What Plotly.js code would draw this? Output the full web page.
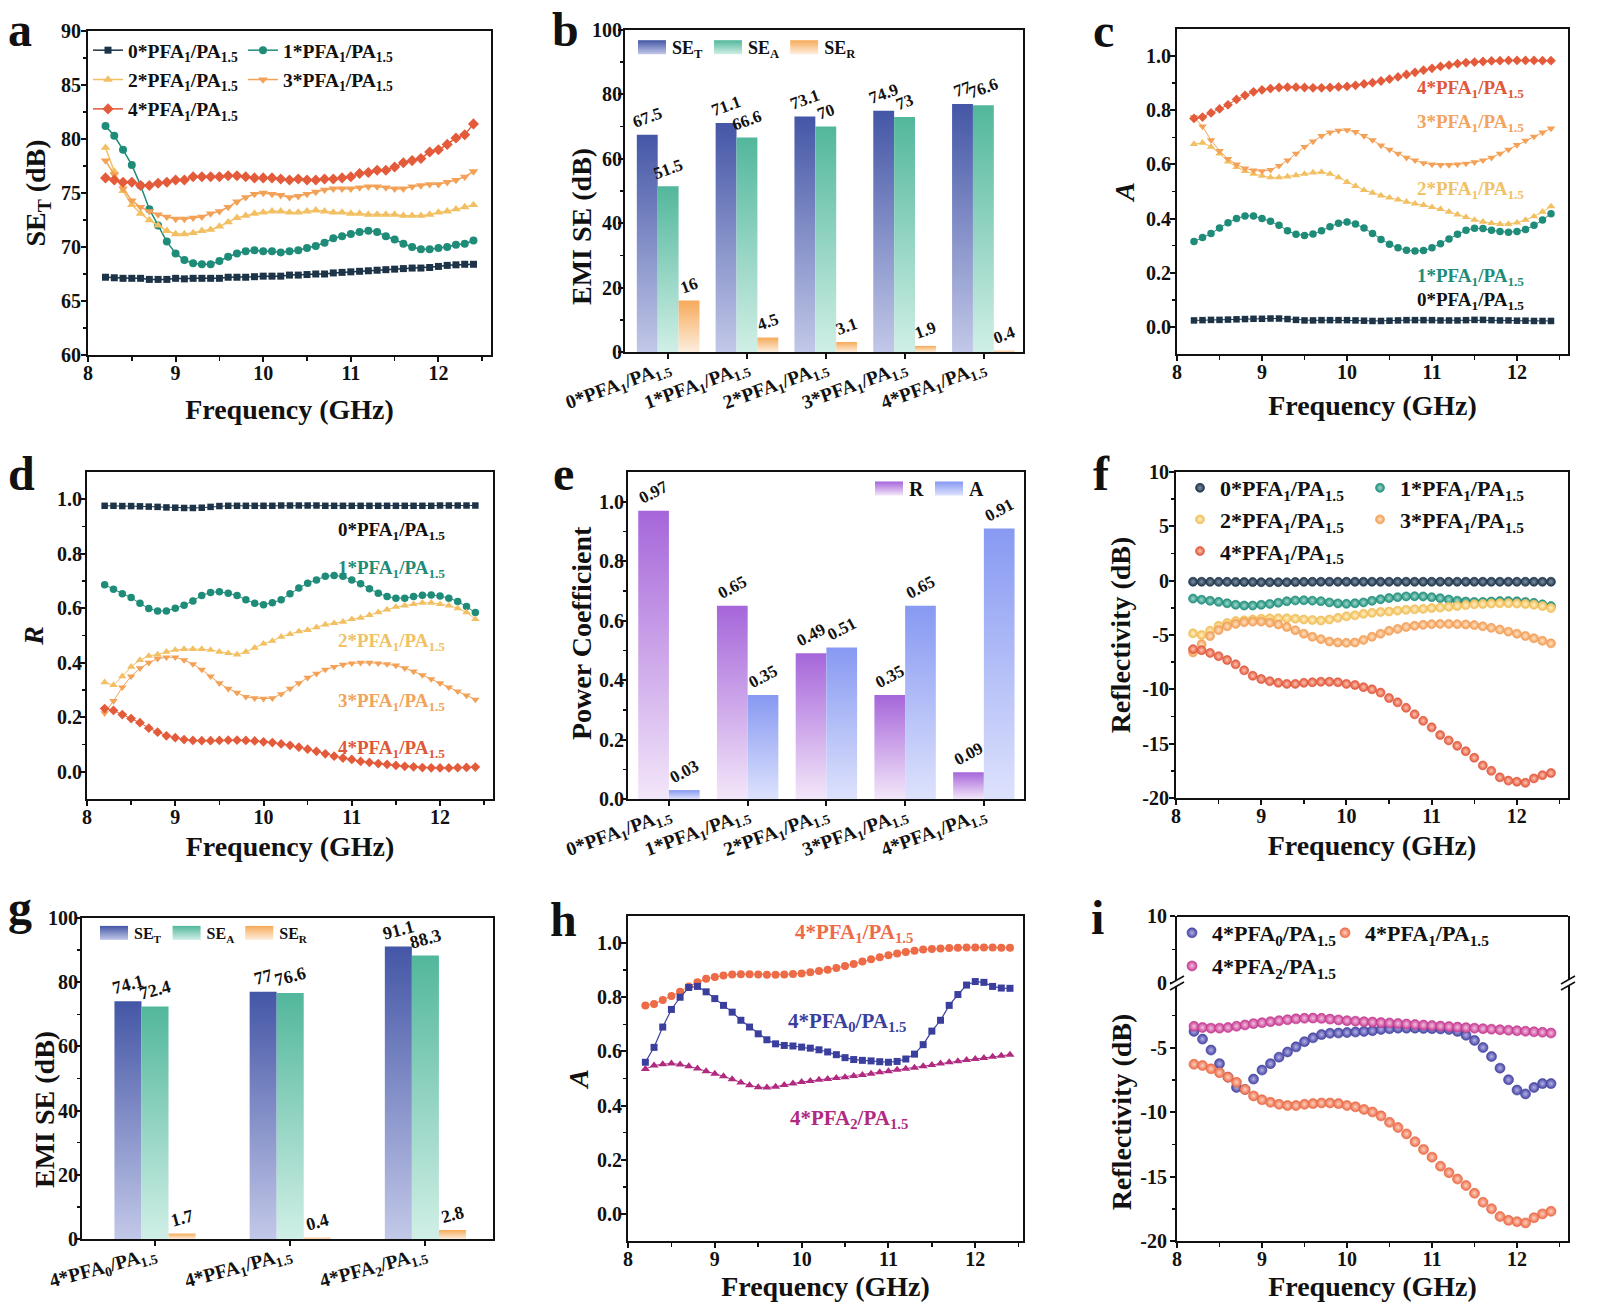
<!DOCTYPE html>
<html><head><meta charset="utf-8">
<script src="https://cdn.plot.ly/plotly-3.0.1.min.js"></script>
<style>html,body{margin:0;padding:0;background:#fff}#chart{width:1600px;height:1308px}</style>
</head><body><div id="chart"></div>
<script>
// ---------------- DATA ----------------
const freq=[8.2,8.3,8.4,8.5,8.6,8.7,8.8,8.9,9.0,9.1, 9.2,9.3,9.4,9.5,9.6,9.7,9.8,9.9,10.0,10.1, 10.2,10.3,10.4,10.5,10.6,10.7,10.8,10.9,11.0,11.1, 11.2,11.3,11.4,11.5,11.6,11.7,11.8,11.9,12.0,12.1, 12.2,12.3,12.4];

// (a) SE_T (dB)
const seT0=[67.2,67.15,67.1,67.1,67.1,67.0,67.0,67.0,67.1,67.05, 67.1,67.1,67.1,67.1,67.2,67.2,67.2,67.25,67.3,67.3, 67.3,67.4,67.4,67.45,67.5,67.5,67.6,67.65,67.7,67.75, 67.8,67.85,67.9,67.95,68.0,68.05,68.05,68.1,68.2,68.3, 68.35,68.4,68.4];
const seT1=[81.2,80.3,79.0,77.6,75.7,73.5,72.0,70.5,69.4,68.8, 68.5,68.4,68.4,68.7,69.1,69.4,69.6,69.7,69.6,69.6, 69.5,69.6,69.7,69.9,70.1,70.4,70.8,71.0,71.2,71.4, 71.5,71.4,71.0,70.7,70.3,70.0,69.8,69.8,69.9,70.0, 70.2,70.3,70.6];
const seT2=[79.2,77.0,75.2,73.9,73.1,72.5,72.0,71.5,71.2,71.2, 71.3,71.5,71.6,71.9,72.3,72.7,72.9,73.1,73.2,73.3, 73.3,73.2,73.2,73.3,73.4,73.3,73.2,73.2,73.1,73.1, 73.0,73.0,73.0,73.0,72.9,72.9,72.9,73.0,73.2,73.3, 73.5,73.7,73.9];
const seT3=[78.0,76.7,75.4,74.3,73.7,73.3,73.0,72.8,72.6,72.6, 72.7,72.8,73.1,73.3,73.7,74.2,74.6,74.9,75.0,74.9, 74.8,74.6,74.7,74.9,75.1,75.3,75.4,75.4,75.4,75.5, 75.6,75.6,75.5,75.4,75.4,75.6,75.7,75.8,75.8,76.0, 76.2,76.5,77.0];
const seT4=[76.4,76.2,76.0,76.0,75.7,75.7,75.9,76.0,76.2,76.2, 76.5,76.5,76.5,76.5,76.6,76.6,76.5,76.4,76.4,76.4, 76.3,76.2,76.3,76.2,76.2,76.3,76.3,76.4,76.5,76.8, 76.9,77.1,77.1,77.4,77.8,78.0,78.2,78.8,79.0,79.5, 80.1,80.4,81.4];

// (b) EMI SE bars
const catsB=['0*PFA<sub>1</sub>/PA<sub>1.5</sub>','1*PFA<sub>1</sub>/PA<sub>1.5</sub>','2*PFA<sub>1</sub>/PA<sub>1.5</sub>','3*PFA<sub>1</sub>/PA<sub>1.5</sub>','4*PFA<sub>1</sub>/PA<sub>1.5</sub>'];
const barSET=[67.5,71.1,73.1,74.9,77];
const barSEA=[51.5,66.6,70,73,76.6];
const barSER=[16,4.5,3.1,1.9,0.4];

// (c) A
const absA0=[0.024,0.025,0.026,0.026,0.027,0.028,0.029,0.030,0.030,0.031, 0.031,0.029,0.026,0.024,0.024,0.025,0.025,0.025,0.025,0.024, 0.023,0.022,0.022,0.023,0.024,0.025,0.025,0.025,0.025,0.024, 0.024,0.024,0.025,0.026,0.026,0.025,0.024,0.024,0.023,0.023, 0.022,0.022,0.022];
const absA1=[0.315,0.330,0.345,0.365,0.385,0.400,0.410,0.410,0.400,0.390, 0.375,0.355,0.342,0.338,0.343,0.355,0.370,0.383,0.387,0.380, 0.365,0.345,0.323,0.305,0.292,0.283,0.280,0.282,0.292,0.307, 0.325,0.342,0.357,0.364,0.363,0.357,0.352,0.350,0.352,0.360, 0.375,0.395,0.418];
const absA2=[0.675,0.680,0.665,0.640,0.610,0.590,0.575,0.565,0.558,0.552, 0.552,0.555,0.560,0.565,0.570,0.572,0.565,0.552,0.535,0.520, 0.505,0.495,0.485,0.477,0.470,0.462,0.455,0.450,0.442,0.435, 0.425,0.415,0.405,0.395,0.388,0.383,0.380,0.380,0.385,0.395, 0.408,0.425,0.445];
const absA3=[0.775,0.740,0.690,0.650,0.620,0.600,0.585,0.578,0.575,0.580, 0.595,0.615,0.640,0.665,0.685,0.705,0.718,0.725,0.727,0.720, 0.705,0.690,0.670,0.655,0.640,0.625,0.615,0.605,0.600,0.598, 0.598,0.600,0.603,0.608,0.615,0.625,0.640,0.655,0.672,0.688, 0.703,0.718,0.733];
const absA4=[0.770,0.775,0.790,0.805,0.820,0.840,0.855,0.868,0.875,0.880, 0.884,0.885,0.885,0.884,0.883,0.883,0.884,0.886,0.888,0.892, 0.897,0.902,0.908,0.915,0.923,0.932,0.940,0.948,0.955,0.962, 0.967,0.972,0.976,0.978,0.980,0.982,0.983,0.984,0.984,0.984, 0.984,0.983,0.983];

// (d) R
const refR0=[0.976,0.976,0.975,0.975,0.974,0.973,0.972,0.970,0.969,0.968, 0.968,0.969,0.972,0.975,0.976,0.976,0.976,0.976,0.976,0.976, 0.977,0.977,0.977,0.977,0.977,0.976,0.976,0.976,0.976,0.976, 0.976,0.976,0.976,0.976,0.976,0.976,0.976,0.976,0.977,0.977, 0.977,0.977,0.977];
const refR1=[0.686,0.670,0.653,0.639,0.618,0.599,0.590,0.590,0.600,0.611, 0.627,0.647,0.658,0.661,0.655,0.647,0.631,0.618,0.613,0.620, 0.631,0.653,0.674,0.692,0.704,0.717,0.720,0.717,0.704,0.690, 0.672,0.655,0.643,0.637,0.637,0.643,0.648,0.649,0.645,0.637, 0.625,0.606,0.584];
const refR2=[0.328,0.318,0.350,0.385,0.410,0.425,0.430,0.440,0.447,0.450, 0.450,0.450,0.447,0.440,0.435,0.430,0.440,0.455,0.470,0.480, 0.495,0.505,0.515,0.520,0.530,0.540,0.545,0.550,0.560,0.565, 0.575,0.585,0.595,0.605,0.610,0.615,0.620,0.620,0.615,0.610, 0.600,0.585,0.560];
const refR3=[0.215,0.260,0.310,0.350,0.380,0.400,0.415,0.420,0.420,0.410, 0.395,0.375,0.350,0.325,0.305,0.290,0.275,0.270,0.268,0.270, 0.285,0.305,0.325,0.345,0.360,0.375,0.385,0.393,0.398,0.400, 0.400,0.398,0.395,0.390,0.380,0.368,0.355,0.340,0.325,0.310, 0.295,0.280,0.265];
const refR4=[0.232,0.225,0.210,0.195,0.180,0.160,0.145,0.132,0.125,0.118, 0.115,0.114,0.114,0.115,0.116,0.116,0.115,0.113,0.110,0.107, 0.102,0.097,0.090,0.083,0.075,0.066,0.057,0.050,0.045,0.038, 0.034,0.030,0.027,0.023,0.020,0.018,0.0155,0.0145,0.014,0.014, 0.015,0.016,0.017];

// (e) power coefficients
const coefR=[0.97,0.65,0.49,0.35,0.09];
const coefA=[0.03,0.35,0.51,0.65,0.91];

// (f) reflectivity (dB)
const rfl0=[-0.10,-0.10,-0.11,-0.11,-0.11,-0.12,-0.12,-0.13,-0.14,-0.14, -0.14,-0.14,-0.12,-0.11,-0.10,-0.10,-0.10,-0.10,-0.10,-0.10, -0.10,-0.10,-0.10,-0.10,-0.10,-0.10,-0.10,-0.10,-0.10,-0.10, -0.10,-0.10,-0.10,-0.10,-0.10,-0.10,-0.10,-0.10,-0.10,-0.10, -0.10,-0.10,-0.10];
const rfl1=[-1.65,-1.75,-1.85,-1.95,-2.08,-2.22,-2.29,-2.29,-2.22,-2.14, -2.03,-1.89,-1.82,-1.80,-1.84,-1.89,-2.00,-2.09,-2.13,-2.08, -2.00,-1.85,-1.71,-1.60,-1.52,-1.45,-1.43,-1.45,-1.52,-1.61, -1.73,-1.84,-1.92,-1.96,-1.96,-1.92,-1.88,-1.88,-1.90,-1.96, -2.04,-2.18,-2.34];
const rfl2=[-4.85,-5.00,-4.60,-4.15,-3.90,-3.72,-3.65,-3.57,-3.50,-3.47, -3.47,-3.47,-3.50,-3.57,-3.62,-3.67,-3.57,-3.42,-3.28,-3.19, -3.05,-2.96,-2.88,-2.84,-2.76,-2.68,-2.63,-2.60,-2.52,-2.48, -2.40,-2.33,-2.25,-2.18,-2.15,-2.11,-2.08,-2.08,-2.11,-2.15, -2.22,-2.33,-2.52];
const rfl3=[-6.60,-5.85,-5.10,-4.55,-4.20,-3.98,-3.82,-3.77,-3.77,-3.87, -4.03,-4.26,-4.56,-4.88,-5.16,-5.38,-5.60,-5.69,-5.72,-5.69, -5.45,-5.16,-4.88,-4.62,-4.44,-4.26,-4.15,-4.06,-4.00,-3.98, -3.98,-4.00,-4.03,-4.09,-4.20,-4.34,-4.50,-4.69,-4.88,-5.09, -5.30,-5.53,-5.77];
const rfl4=[-6.30,-6.40,-6.65,-6.95,-7.30,-7.70,-8.25,-8.75,-9.05,-9.25, -9.40,-9.50,-9.50,-9.40,-9.35,-9.30,-9.30,-9.35,-9.50,-9.60, -9.80,-10.00,-10.30,-10.80,-11.20,-11.70,-12.30,-12.90,-13.50,-14.20, -14.70,-15.20,-15.70,-16.30,-17.00,-17.50,-18.10,-18.40,-18.50,-18.60, -18.20,-17.90,-17.70];

// (g) EMI SE bars
const catsG=['4*PFA<sub>0</sub>/PA<sub>1.5</sub>','4*PFA<sub>1</sub>/PA<sub>1.5</sub>','4*PFA<sub>2</sub>/PA<sub>1.5</sub>'];
const gSET=[74.1,77,91.1];
const gSEA=[72.4,76.6,88.3];
const gSER=[1.7,0.4,2.8];

// (h) A
const hA0=[0.560,0.615,0.690,0.755,0.800,0.836,0.840,0.820,0.795,0.770, 0.745,0.715,0.690,0.665,0.643,0.628,0.622,0.620,0.616,0.612, 0.606,0.598,0.588,0.577,0.570,0.567,0.565,0.562,0.560,0.563, 0.572,0.590,0.625,0.675,0.715,0.770,0.810,0.845,0.858,0.855, 0.840,0.834,0.833];
const hA1=absA4;
const hA2=[0.535,0.548,0.553,0.555,0.552,0.545,0.537,0.527,0.518,0.508, 0.497,0.485,0.475,0.468,0.467,0.470,0.476,0.482,0.487,0.491, 0.495,0.498,0.502,0.505,0.509,0.513,0.518,0.523,0.527,0.532, 0.536,0.540,0.545,0.550,0.555,0.560,0.564,0.568,0.572,0.576, 0.580,0.584,0.588];

// (i) reflectivity (dB)
const iR0=[-3.75,-4.35,-5.20,-6.25,-7.30,-8.10,-8.25,-7.45,-6.75,-6.25, -5.75,-5.35,-4.95,-4.55,-4.25,-4.00,-3.90,-3.88,-3.84,-3.80, -3.75,-3.70,-3.60,-3.55,-3.50,-3.50,-3.50,-3.52,-3.54,-3.56, -3.60,-3.75,-4.05,-4.45,-5.00,-5.70,-6.60,-7.50,-8.30,-8.60, -8.10,-7.80,-7.80];
const iR1=rfl4;
const iR2=[-3.36,-3.45,-3.50,-3.50,-3.45,-3.35,-3.25,-3.15,-3.08,-3.00, -2.92,-2.85,-2.78,-2.73,-2.72,-2.74,-2.80,-2.86,-2.92,-2.96, -3.00,-3.03,-3.07,-3.10,-3.14,-3.18,-3.22,-3.26,-3.30,-3.34, -3.38,-3.42,-3.46,-3.50,-3.54,-3.58,-3.62,-3.66,-3.70,-3.74, -3.78,-3.82,-3.88];

// ---------------- STYLE ----------------
const W=1600,H=1308;
const px=v=>v/W, py=v=>1-v/H;
const FONT='Liberation Serif, "Times New Roman", serif';
const K='#111111';
const lbl=(n,a)=>n+'*PFA<sub>'+a+'</sub>/PA<sub>1.5</sub>';
const C0='#1d3347',C1='#1f8c79',C2='#f2c062',C3='#f4a158',C4='#e35b3b';
const GRAD={gT:['#4456a6','#c2c8e8'],gA:['#52b79c','#d0efe6'],gR:['#f6aa5a','#fdeede'],gRe:['#a666da','#f3e6f9'],gAe:['#8799f2','#dde2fc']};

const tickFont={family:FONT,size:20,color:K,weight:'bold'};
const titleFont={family:FONT,size:28,color:K,weight:'bold'};
function ax(o){return Object.assign({showline:true,linewidth:2,linecolor:K,mirror:true,ticks:'outside',ticklen:5,tickwidth:2,tickcolor:K,showgrid:false,zeroline:false,automargin:false,fixedrange:true,tickfont:tickFont},o);}
function minor(d){return {dtick:d,ticks:'outside',ticklen:3.5,tickwidth:1.5,tickcolor:K};}
function fx(dom,anchor,range,so){return ax({domain:dom,anchor:anchor,range:range,dtick:1,tick0:8,ticklabelstandoff:-6,minor:minor(0.5),title:{text:'Frequency (GHz)',font:titleFont,standoff:so}});}
function yax(dom,anchor,range,o,title,so,tls){const a=ax(Object.assign({domain:dom,anchor:anchor,range:range,ticklabelstandoff:tls},o));if(title)a.title={text:title,font:titleFont,standoff:so};return a;}
function cx(dom,anchor,range,ang){return ax({domain:dom,anchor:anchor,range:range,type:'category',tickangle:ang,ticklabelstandoff:-10,tickfont:{family:FONT,size:19.5,color:K,weight:'bold'}});}

function ln(x,y,xa,ya,name,color,symbol,size,leg,lw){return {type:'scatter',mode:'lines+markers',x:x,y:y,xaxis:xa,yaxis:ya,name:name,legendgroup:name+xa,line:{color:color,width:lw},marker:{color:color,symbol:symbol,size:size},legend:leg||'legend',showlegend:!!leg,hoverinfo:'skip'};}
function sph(x,y,xa,ya,name,color,hi,size,leg){return {type:'scatter',mode:'markers',x:x,y:y,xaxis:xa,yaxis:ya,name:name,legendgroup:name+xa,marker:{color:color,size:size,gradient:{type:'radial',color:hi},line:{width:0.6,color:color}},legend:leg,showlegend:true,hoverinfo:'skip'};}
function bar(x,y,xa,ya,name,color,grad,w,off,leg,ang,fs){return {type:'bar',x:x,y:y,xaxis:xa,yaxis:ya,name:name,meta:grad,marker:{color:color,line:{width:0}},width:w,offset:off,text:y.map(String),textposition:'outside',textangle:ang,constraintext:'none',cliponaxis:false,textfont:{family:FONT,size:fs,color:K,weight:'bold'},legend:leg,showlegend:true,hoverinfo:'skip'};}

const data=[
 // a
 ln(freq,seT0,'x','y',lbl(0,1),C0,'square',7,'legend',1.5),
 ln(freq,seT1,'x','y',lbl(1,1),C1,'circle',8,'legend2',1.5),
 ln(freq,seT2,'x','y',lbl(2,1),C2,'triangle-up',8.5,'legend',1.5),
 ln(freq,seT3,'x','y',lbl(3,1),C3,'triangle-down',8.5,'legend2',1.5),
 ln(freq,seT4,'x','y',lbl(4,1),C4,'diamond',8.5,'legend',1.5),
 // b
 bar(catsB,barSET,'x2','y2','SE<sub>T</sub>','#4456a6','gT',0.265,-0.4,'legend7',-20,17),
 bar(catsB,barSEA,'x2','y2','SE<sub>A</sub>','#52b79c','gA',0.265,-0.135,'legend7',-20,17),
 bar(catsB,barSER,'x2','y2','SE<sub>R</sub>','#f6aa5a','gR',0.265,0.13,'legend7',-20,17),
 // c
 ln(freq,absA0,'x3','y3',lbl(0,1),C0,'square',6.5,null,1),
 ln(freq,absA1,'x3','y3',lbl(1,1),C1,'circle',7.5,null,1),
 ln(freq,absA2,'x3','y3',lbl(2,1),C2,'triangle-up',7.5,null,1),
 ln(freq,absA3,'x3','y3',lbl(3,1),C3,'triangle-down',7.5,null,1),
 ln(freq,absA4,'x3','y3',lbl(4,1),C4,'diamond',7.5,null,1),
 // d
 ln(freq,refR0,'x4','y4',lbl(0,1),C0,'square',6.5,null,1),
 ln(freq,refR1,'x4','y4',lbl(1,1),C1,'circle',7.5,null,1),
 ln(freq,refR2,'x4','y4',lbl(2,1),C2,'triangle-up',7.5,null,1),
 ln(freq,refR3,'x4','y4',lbl(3,1),C3,'triangle-down',7.5,null,1),
 ln(freq,refR4,'x4','y4',lbl(4,1),C4,'diamond',7.5,null,1),
 // e
 bar(catsB,coefR,'x5','y5','R','#a666da','gRe',0.39,-0.39,'legend8',-28,17),
 bar(catsB,coefA,'x5','y5','A','#8799f2','gAe',0.39,0,'legend8',-28,17),
 // f
 sph(freq,rfl0,'x6','y6',lbl(0,1),'#1d3347','#7f93a8',9,'legend3'),
 sph(freq,rfl1,'x6','y6',lbl(1,1),'#1f8c79','#9fdccf',9,'legend4'),
 sph(freq,rfl2,'x6','y6',lbl(2,1),'#f0bd55','#fff0c8',9,'legend3'),
 sph(freq,rfl3,'x6','y6',lbl(3,1),'#f29c52','#ffe3c6',9,'legend4'),
 sph(freq,rfl4,'x6','y6',lbl(4,1),'#e0553a','#ffc4b0',9,'legend3'),
 // g
 bar(catsG,gSET,'x7','y7','SE<sub>T</sub>','#4456a6','gT',0.2,-0.3,'legend9',-15,18),
 bar(catsG,gSEA,'x7','y7','SE<sub>A</sub>','#52b79c','gA',0.2,-0.1,'legend9',-15,18),
 bar(catsG,gSER,'x7','y7','SE<sub>R</sub>','#f6aa5a','gR',0.2,0.1,'legend9',-15,18),
 // h
 ln(freq,hA1,'x8','y8',lbl(4,1),'#ee6b47','circle',8,null,1),
 ln(freq,hA0,'x8','y8',lbl(4,0),'#3a3f9e','square',7,null,1.2),
 ln(freq,hA2,'x8','y8',lbl(4,2),'#b02a80','triangle-up',8,null,1),
 // i
 sph(freq,iR0,'x9','y9',lbl(4,0),'#45439f','#b3b2ea',10,'legend5'),
 sph(freq,iR1,'x9','y9',lbl(4,1),'#ea6a46','#ffd0bf',10,'legend6'),
 sph(freq,iR2,'x9','y9',lbl(4,2),'#c53a91','#f5bfe0',10,'legend5'),
 {type:'scatter',mode:'markers',x:[],y:[],xaxis:'x9',yaxis:'y10',showlegend:false,hoverinfo:'skip'}
];

function legV(x,y,size,gap){return {x:px(x),y:py(y),xanchor:'left',yanchor:'top',orientation:'v',bgcolor:'rgba(0,0,0,0)',borderwidth:0,font:{family:FONT,size:size,color:K,weight:'bold'},traceorder:'grouped',tracegroupgap:gap,itemclick:false,itemdoubleclick:false};}
function legH(x,y,size){return {x:px(x),y:py(y),xanchor:'left',yanchor:'top',orientation:'h',bgcolor:'rgba(0,0,0,0)',borderwidth:0,font:{family:FONT,size:size,color:K,weight:'bold'},itemclick:false,itemdoubleclick:false};}
function note(text,x,y,xr,yr,color,size,xa){return {text:text,x:x,y:y,xref:xr,yref:yr,xanchor:xa||'right',yanchor:'middle',showarrow:false,font:{family:FONT,size:size,color:color,weight:'bold'}};}
function letter(t,x,y,anc){return {text:t,x:px(x),y:py(y),xref:'paper',yref:'paper',xanchor:'center',yanchor:anc||'middle',showarrow:false,font:{family:FONT,size:48,color:K,weight:'bold'}};}
function ytitle(t,x,y){return {text:t,x:px(x),y:py(y),xref:'paper',yref:'paper',xanchor:'center',yanchor:'middle',textangle:-90,showarrow:false,font:titleFont};}

const dbTicks=[10,5,0,-5,-10,-15,-20];
const minorA={tickvals:[0.1,0.3,0.5,0.7,0.9],ticks:'outside',ticklen:3.5,tickwidth:1.5,tickcolor:K};
const layout={
 width:W,height:H,margin:{l:0,r:0,t:0,b:0},paper_bgcolor:'#ffffff',plot_bgcolor:'rgba(0,0,0,0)',
 font:{family:FONT,color:K,weight:'bold'},barmode:'overlay',showlegend:true,
 // a
 xaxis:fx([px(88),px(491)],'y',[8,12.6],16),
 yaxis:yax([py(355),py(31)],'x',[60,90],{dtick:5,minor:minor(2.5)},'SE<sub>T</sub> (dB)',7,-4),
 // b
 xaxis2:cx([px(625),px(1023)],'y2',[-0.55,4.5],-20),
 yaxis2:yax([py(352),py(30)],'x2',[0,100],{dtick:20,minor:minor(10)},null,0,-8),
 // c
 xaxis3:fx([px(1177),px(1568)],'y3',[8,12.6],13),
 yaxis3:yax([py(354),py(29)],'x3',[-0.1,1.1],{tickvals:[0,0.2,0.4,0.6,0.8,1.0],tickformat:'.1f',minor:minorA},'<i>A</i>',3,-5),
 // d
 xaxis4:fx([px(87),px(493)],'y4',[8,12.6],9),
 yaxis4:yax([py(799),py(472)],'x4',[-0.1,1.1],{tickvals:[0,0.2,0.4,0.6,0.8,1.0],tickformat:'.1f',minor:minorA},'<i>R</i>',5,-6),
 // e
 xaxis5:cx([px(628),px(1024)],'y5',[-0.52,4.51],-20),
 yaxis5:yax([py(799),py(472)],'x5',[0,1.1],{tickvals:[0,0.2,0.4,0.6,0.8,1.0],tickformat:'.1f',minor:minorA},null,0,-7),
 // f
 xaxis6:fx([px(1176),px(1568)],'y6',[8,12.6],9),
 yaxis6:yax([py(798),py(472)],'x6',[-20,10],{tickvals:dbTicks,ticktext:dbTicks.map(String),minor:{tickvals:[7.5,2.5,-2.5,-7.5,-12.5,-17.5],ticks:'outside',ticklen:3.5,tickwidth:1.5,tickcolor:K}},'Reflectivity (dB)',4,-4),
 // g
 xaxis7:cx([px(82),px(493)],'y7',[-0.54,2.5],-15),
 yaxis7:yax([py(1239),py(918)],'x7',[0,100],{dtick:20,minor:minor(10)},null,0,-7),
 // h
 xaxis8:fx([px(628),px(1023)],'y8',[8,12.55],7),
 yaxis8:yax([py(1241),py(916)],'x8',[-0.1,1.1],{tickvals:[0,0.2,0.4,0.6,0.8,1.0],tickformat:'.1f',minor:minorA},'<i>A</i>',0,-5),
 // i
 xaxis9:Object.assign(fx([px(1177),px(1568)],'y9',[8,12.6],7),{mirror:false}),
 yaxis9:yax([py(1241),py(983)],'x9',[-20,0],{tickvals:[0,-5,-10,-15,-20],ticktext:['0','-5','-10','-15','-20'],minor:{tickvals:[-2.5,-7.5,-12.5,-17.5],ticks:'outside',ticklen:3.5,tickwidth:1.5,tickcolor:K}},'Reflectivity (dB)',1,-1),
 yaxis10:ax({domain:[py(983),py(916)],anchor:'x9',range:[0,10],ticklabelstandoff:-1,tickvals:[10],ticktext:['10'],minor:{tickvals:[5],ticks:'outside',ticklen:3.5,tickwidth:1.5,tickcolor:K}}),
 legend:legV(88,31,19.5,1),
 legend2:legV(243,31,19.5,1),
 legend3:legV(1180,467,22,0),
 legend4:legV(1360,467,22,0),
 legend5:legV(1172,912,22,1.5),
 legend6:legV(1325,912,22,1.5),
 legend7:legH(632,29,18),
 legend8:legH(869,469,20),
 legend9:legH(94,916,16),
 annotations:[
  letter('a',20,1,'top'),letter('b',565,1,'top'),letter('c',1103,31),
  letter('d',21,474),letter('e',563,474),letter('f',1101,474),
  letter('g',20,907),letter('h',563,919),letter('i',1097,917),
  ytitle('EMI SE (dB)',582,227),
  ytitle('Power Coefficient',581,633),
  ytitle('EMI SE (dB)',44,1110),
  // c labels
  note(lbl(4,1),12.1,0.877,'x3','y3','#e0583a',19),
  note(lbl(3,1),12.1,0.752,'x3','y3','#f2a45e',19),
  note(lbl(2,1),12.1,0.505,'x3','y3','#f0c266',19),
  note(lbl(1,1),12.1,0.186,'x3','y3','#1f8c79',19),
  note(lbl(0,1),12.1,0.094,'x3','y3',K,19),
  // d labels
  note(lbl(0,1),12.08,0.885,'x4','y4',K,19),
  note(lbl(1,1),12.08,0.745,'x4','y4','#1f8c79',19),
  note(lbl(2,1),12.08,0.475,'x4','y4','#f0c266',19),
  note(lbl(3,1),12.08,0.255,'x4','y4','#f2a45e',19),
  note(lbl(4,1),12.08,0.085,'x4','y4','#e0583a',19),
  // h labels
  note(lbl(4,1),10.6,1.037,'x8','y8','#ee6b47',21,'center'),
  note(lbl(4,0),10.52,0.71,'x8','y8','#3a3f9e',21,'center'),
  note(lbl(4,2),10.54,0.35,'x8','y8','#b02a80',21,'center')
 ],
 shapes:[
  {type:'line',xref:'x9 domain',yref:'paper',x0:0,x1:1,y0:py(916),y1:py(916),line:{color:K,width:2}},
  // axis break marks (left and right)
  {type:'rect',xref:'paper',yref:'paper',x0:px(1172),x1:px(1182),y0:py(986),y1:py(980),fillcolor:'#fff',line:{width:0}},
  {type:'rect',xref:'paper',yref:'paper',x0:px(1563),x1:px(1573),y0:py(986),y1:py(980),fillcolor:'#fff',line:{width:0}},
  {type:'line',xref:'paper',yref:'paper',x0:px(1170),x1:px(1184),y0:py(984),y1:py(976),line:{color:K,width:1.5}},
  {type:'line',xref:'paper',yref:'paper',x0:px(1170),x1:px(1184),y0:py(990),y1:py(982),line:{color:K,width:1.5}},
  {type:'line',xref:'paper',yref:'paper',x0:px(1561),x1:px(1575),y0:py(984),y1:py(976),line:{color:K,width:1.5}},
  {type:'line',xref:'paper',yref:'paper',x0:px(1561),x1:px(1575),y0:py(990),y1:py(982),line:{color:K,width:1.5}}
 ]
};

const gd=document.getElementById('chart');
Plotly.newPlot(gd,data,layout,{staticPlot:true,displayModeBar:false}).then(function(){
 const NS='http://www.w3.org/2000/svg';
 const svg=gd.querySelector('svg.main-svg');
 let defs=svg.querySelector('defs');
 if(!defs){defs=document.createElementNS(NS,'defs');svg.insertBefore(defs,svg.firstChild);}
 Object.keys(GRAD).forEach(function(id){
  const lg=document.createElementNS(NS,'linearGradient');
  lg.setAttribute('id',id);lg.setAttribute('x1','0');lg.setAttribute('y1','0');lg.setAttribute('x2','0');lg.setAttribute('y2','1');
  [[0,GRAD[id][0]],[1,GRAD[id][1]]].forEach(function(s){const st=document.createElementNS(NS,'stop');st.setAttribute('offset',s[0]);st.setAttribute('stop-color',s[1]);lg.appendChild(st);});
  defs.appendChild(lg);
 });
 gd.querySelectorAll('.barlayer .trace').forEach(function(g){
  const cd=g.__data__;const tr=cd&&cd[0]&&cd[0].trace;if(!tr||!tr.meta)return;
  g.querySelectorAll('path').forEach(function(p){p.style.fill='url(#'+tr.meta+')';});
 });
 gd.querySelectorAll('g.traces').forEach(function(g){
  const d=g.__data__;const tr=d&&d[0]&&d[0].trace;if(!tr||tr.type!=='bar'||!tr.meta)return;
  g.querySelectorAll('.legendpoints path').forEach(function(p){p.setAttribute('d','M14,7H-14V-7H14Z');p.style.fill='url(#'+tr.meta+')';p.style.stroke='none';});
 });
});
</script></body></html>
